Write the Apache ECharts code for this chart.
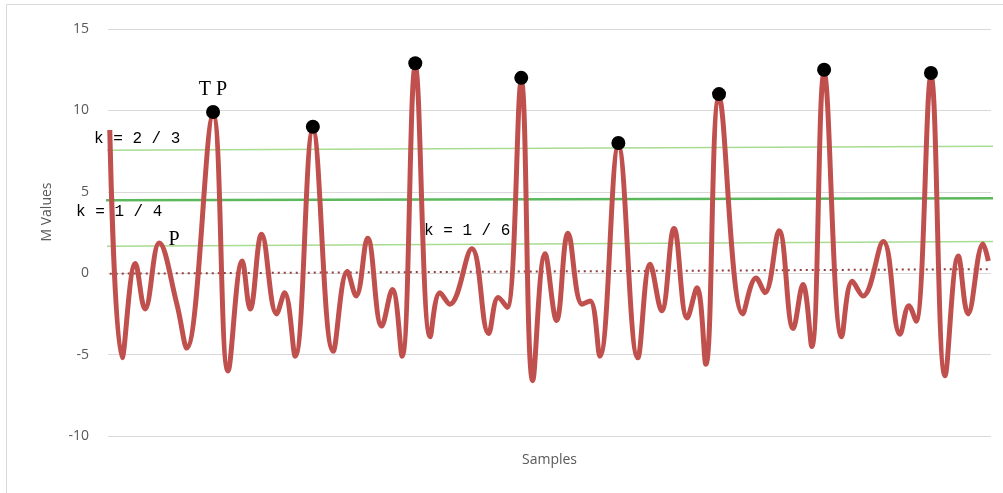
<!DOCTYPE html>
<html>
<head>
<meta charset="utf-8">
<script src="https://cdn.jsdelivr.net/npm/echarts@6/dist/echarts.min.js"></script>
<style>
  html, body { margin: 0; padding: 0; background: #fff; }
  #chart { width: 1003px; height: 493px; }
</style>
</head>
<body>
<div id="chart"></div>
<script>
// sample positions (x) and M values of the signal
const samples = [
  0.2, 1.6, 3.1, 4.2, 5.8, 7.8, 8.9, 11.9, 13.6, 15.2,
  16.1, 17.4, 19.1, 20.0, 21.2, 23.2, 25.5, 27.1, 28.1, 29.4,
  31.0, 32.2, 33.3, 34.8, 36.5, 37.6, 38.7, 41.2, 43.1, 44.2,
  45.2, 46.8, 48.1, 49.5, 50.8, 52.1, 53.7, 54.6, 55.7, 57.8,
  60.0, 61.4, 62.7, 64.1, 65.6, 66.7, 67.7, 69.2, 71.9, 73.4,
  74.4, 76.0, 77.6, 78.7, 79.7, 81.1, 83.1, 84.3, 85.5, 87.8,
  89.7, 90.7, 91.5, 93.2, 94.8, 96.3, 97.4, 99.1, 99.7
];
const mValues = [
  8.8, -5.2, 0.6, -2.2, 1.85, -1.9, -4.6, 9.7, -6.0, 0.75,
  -2.2, 2.4, -2.5, -1.2, -5.1, 8.8, -4.8, 0.1, -1.4, 2.15,
  -3.25, -1.0, -5.1, 12.7, -3.9, -1.2, -1.9, 1.5, -3.7, -1.5,
  -2.1, 11.8, -6.6, 1.2, -2.9, 2.45, -1.9, -1.7, -5.1, 7.8,
  -5.2, 0.55, -2.3, 2.75, -2.75, -0.9, -5.6, 10.8, -2.5, -0.3,
  -1.2, 2.6, -3.4, -0.7, -4.5, 12.3, -3.9, -0.5, -1.4, 1.95,
  -3.75, -2.0, -2.95, 12.1, -6.3, 1.05, -2.5, 1.8, 0.75
];

// detected peaks (black dots)
const peakSamples = [11.9, 23.2, 34.8, 46.8, 57.8, 69.2, 81.1, 93.2];
const peakValues = [9.9, 9.0, 12.9, 12.0, 8.0, 11.0, 12.5, 12.3];

// threshold lines: value at left end, value at right end
const k23 = [7.55, 7.8];
const k14 = [4.48, 4.6];
const k16 = [1.65, 1.95];
const trend = [-0.03, 0.25];

const yTicks = [-10, -5, 0, 5, 10, 15];

const chart = echarts.init(document.getElementById("chart"));

const signal = samples.map((s, i) => [s, mValues[i]]);
const peaks = peakSamples.map((s, i) => [s, peakValues[i]]);

function straight(vals, x0, x1) {
  return [[x0, vals[0]], [x1, vals[1]]];
}

const monoLabel = {
  fontFamily: "Liberation Mono",
  fontSize: 16,
  fill: "#000",
};

chart.setOption({
  animation: false,
  grid: { left: 108, right: 12, top: 29, bottom: 57 },
  xAxis: {
    type: "value",
    min: 0,
    max: 100,
    name: "Samples",
    nameLocation: "middle",
    nameGap: 17,
    nameTextStyle: { fontFamily: "Open Sans", fontSize: 14, color: "#595959" },
    axisLine: { show: false },
    axisTick: { show: false },
    axisLabel: { show: false },
    splitLine: { show: false },
  },
  yAxis: {
    type: "value",
    min: yTicks[0],
    max: yTicks[yTicks.length - 1],
    interval: 5,
    axisLine: { show: false },
    axisTick: { show: false },
    axisLabel: {
      fontFamily: "Open Sans",
      fontSize: 14,
      color: "#595959",
      margin: 19,
    },
    splitLine: { lineStyle: { color: "#d9d9d9", width: 1 } },
  },
  series: [
    {
      type: "line",
      name: "k = 2 / 3",
      data: straight(k23, -2, 101.4),
      clip: false,
      symbol: "none",
      silent: true,
      lineStyle: { color: "#a8dc90", width: 1.5 },
    },
    {
      type: "line",
      name: "k = 1 / 4",
      data: straight(k14, -2, 101.4),
      clip: false,
      symbol: "none",
      silent: true,
      lineStyle: { color: "#5cb85c", width: 2.5 },
    },
    {
      type: "line",
      name: "k = 1 / 6",
      data: straight(k16, -2, 101.4),
      clip: false,
      symbol: "none",
      silent: true,
      lineStyle: { color: "#a8dc90", width: 1.5 },
    },
    {
      type: "line",
      name: "trend",
      data: straight(trend, 0.2, 99.7),
      symbol: "none",
      silent: true,
      lineStyle: { color: "#8e3f3d", width: 2, type: [2, 4] },
    },
    {
      type: "line",
      name: "M",
      data: signal,
      smooth: 0.4,
      symbol: "none",
      lineStyle: { color: "#c0504d", width: 5 },
    },
    {
      type: "scatter",
      name: "peaks",
      data: peaks,
      symbolSize: 14,
      itemStyle: { color: "#000", opacity: 1 },
      z: 5,
    },
  ],
  graphic: [
    {
      type: "rect",
      shape: { x: 6.5, y: 4.5, width: 1010, height: 500 },
      style: { fill: "none", stroke: "#d9d9d9", lineWidth: 1 },
      silent: true,
    },
    {
      type: "text",
      x: 47,
      y: 212,
      rotation: Math.PI / 2,
      style: {
        text: "M Values",
        fontFamily: "Open Sans",
        fontSize: 14,
        fill: "#595959",
        align: "center",
        verticalAlign: "middle",
      },
    },
    {
      type: "text",
      x: 213,
      y: 90,
      style: {
        text: "T P",
        fontFamily: "Liberation Serif",
        fontSize: 20,
        fill: "#000",
        align: "center",
        verticalAlign: "middle",
      },
    },
    {
      type: "text",
      x: 174,
      y: 240,
      style: {
        text: "P",
        fontFamily: "Liberation Serif",
        fontSize: 20,
        fill: "#000",
        align: "center",
        verticalAlign: "middle",
      },
    },
    {
      type: "text",
      x: 94,
      y: 139,
      style: Object.assign({ text: "k = 2 / 3", verticalAlign: "middle" }, monoLabel),
    },
    {
      type: "text",
      x: 76,
      y: 212,
      style: Object.assign({ text: "k = 1 / 4", verticalAlign: "middle" }, monoLabel),
    },
    {
      type: "text",
      x: 424,
      y: 231,
      style: Object.assign({ text: "k = 1 / 6", verticalAlign: "middle" }, monoLabel),
    },
  ],
});
</script>
</body>
</html>
